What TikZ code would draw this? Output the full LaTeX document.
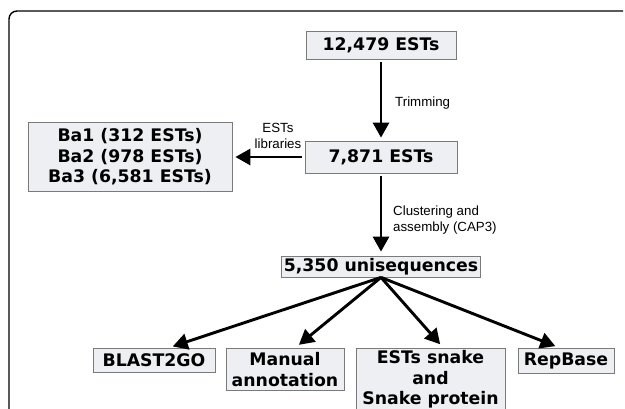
\documentclass[tikz,border=0pt]{standalone}
\usepackage{fontspec}
\setmainfont{Liberation Sans}
\newfontfamily\boxfont{DejaVu Sans}
\usetikzlibrary{arrows.meta}
\definecolor{boxfill}{HTML}{EDEFF3}
\definecolor{boxline}{HTML}{7A7A7A}
\begin{document}
\begin{tikzpicture}[x=1pt,y=-1pt,box_node/.style={draw=boxline,fill=boxfill,line width=0.8pt,font=\boxfont\bfseries\fontsize{17.3}{20.5}\selectfont,align=center,inner sep=2pt},label_node/.style={font=\fontsize{13.3}{16}\selectfont,align=left,inner sep=0pt},flow_arrow/.style={-{Triangle[length=15pt,width=16pt]},line width=2.9pt}]
		
		\useasboundingbox (0,0) rectangle (625,408);
		\clip (0,0) rectangle (625,408);
		\draw[line width=1.4pt,rounded corners=8pt] (9,412) -- (9,11) -- (623,11);
		
		\node[box_node,minimum width=150pt,minimum height=28pt] (raw) at (381,45) {12,479 ESTs};
		\node[box_node,minimum width=152pt,minimum height=32pt] (trim) at (381,157) {7,871 ESTs};
		\node[box_node,minimum width=204pt,minimum height=69pt] (libs) at (130,157) {Ba1 (312 ESTs)\\Ba2 (978 ESTs)\\Ba3 (6,581 ESTs)};
		\node[box_node,minimum width=199pt,minimum height=21pt] (uni) at (381,266.5) {5,350 unisequences};
		\node[box_node,anchor=north,minimum width=122pt,minimum height=24pt] (blast) at (154,348) {BLAST2GO};
		\node[box_node,anchor=north,minimum width=118pt,minimum height=42pt] (manual) at (285,348) {Manual\\annotation};
		\node[box_node,anchor=north,minimum width=149pt] (snake) at (430.5,348) {ESTs snake\\and\\Snake protein};
		\node[box_node,anchor=north,minimum width=96pt,minimum height=25pt] (repbase) at (566,348) {RepBase};
		
		\node[label_node,anchor=west] (trim_lbl) at (395,103) {Trimming};
		\node[label_node,align=center] (lib_lbl) at (278,136) {ESTs\\libraries};
		\node[label_node,anchor=west] (clus_lbl) at (393,220) {Clustering and\\assembly (CAP3)};
		
		\draw[flow_arrow,shorten <=3pt,shorten >=3pt] (raw) -- (trim);
		\draw[flow_arrow,shorten <=3pt,shorten >=3pt] (trim) -- (libs);
		\draw[flow_arrow,shorten <=3pt,shorten >=4pt] (trim) -- (uni);
		\draw[flow_arrow,shorten >=5pt] (uni.south) -- ([xshift=14pt]blast.north);
		\draw[flow_arrow,shorten >=5pt] (uni.south) -- ([xshift=10pt]manual.north);
		\draw[flow_arrow,shorten >=5pt] (uni.south) -- ([xshift=13pt]snake.north);
		\draw[flow_arrow,shorten >=5pt] (uni.south) -- ([xshift=-6pt]repbase.north);
		\end{tikzpicture}
\end{document}
